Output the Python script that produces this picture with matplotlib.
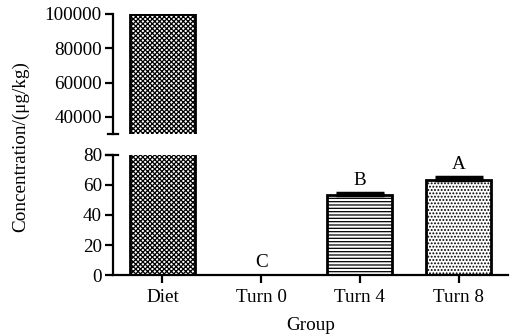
import matplotlib
matplotlib.use("Agg")
import matplotlib.pyplot as plt
import numpy as np

plt.rcParams['font.family'] = ['Liberation Serif', 'DejaVu Serif']
plt.rcParams['hatch.linewidth'] = 0.9

categories = ["Diet", "Turn 0", "Turn 4", "Turn 8"]
values = [100000, 0, 53.5, 63.5]
errors = [0, 0, 1.2, 1.5]
letters = ["", "C", "B", "A"]
hatches = ["xxxxxxx", "", "-----", "....."]
top_ticks = [40000, 60000, 80000, 100000]
bottom_ticks = [0, 20, 40, 60, 80]

fig = plt.figure(figsize=(5.16, 3.36), dpi=100)
L, R = 113/516, 508/516
ax_top = fig.add_axes([L, 1-134/336, R-L, 120/336])
ax_bot = fig.add_axes([L, 1-275/336, R-L, 120/336])

x = np.arange(len(categories))
fs = 13.8
lw = 1.6

for ax in (ax_top, ax_bot):
    for i, (v, h) in enumerate(zip(values, hatches)):
        if v > 0:
            ax.bar(x[i], v, width=0.66, facecolor='white', edgecolor='black',
                   hatch=h, linewidth=2.0, zorder=2)
    ax.set_xlim(-0.5, 3.5)
    for s in ('top', 'right'):
        ax.spines[s].set_visible(False)
    ax.spines['left'].set_linewidth(lw)
    ax.spines['bottom'].set_linewidth(lw)
    ax.tick_params(axis='both', width=lw, length=6, labelsize=fs, colors='black', pad=2)

# error caps (upper only)
for i, (v, e) in enumerate(zip(values, errors)):
    if e > 0:
        ax_bot.errorbar(x[i], v, yerr=[[0], [e]], fmt='none', ecolor='black',
                        elinewidth=2, capsize=17, capthick=2.5, zorder=3)

ax_top.set_ylim(30000, 100000)
ax_top.set_yticks(top_ticks)
ax_top.spines['bottom'].set_visible(False)
ax_top.set_xticks([])

ax_bot.set_ylim(0, 80)
ax_bot.set_yticks(bottom_ticks)
ax_bot.set_xticks(x)
ax_bot.set_xticklabels(categories)
ax_bot.tick_params(axis='x', pad=4)
ax_bot.set_xlabel("Group", fontsize=fs, labelpad=8)

for i, t in enumerate(letters):
    if t:
        ax_bot.annotate(t, (x[i], values[i] + errors[i]), xytext=(0, 3),
                        textcoords='offset points', ha='center', va='bottom', fontsize=fs)

# break markers
ax_top.plot([-0.55, -0.45], [30000, 30000], color='black', lw=lw, clip_on=False)
ax_bot.plot([-0.57, -0.45], [80, 80], color='black', lw=lw, clip_on=False)

fig.text(0.04, 1-147/336, "Concentration/(μg/kg)", rotation=90, ha='center', va='center', fontsize=fs)

fig.savefig("out.png", dpi=100)
